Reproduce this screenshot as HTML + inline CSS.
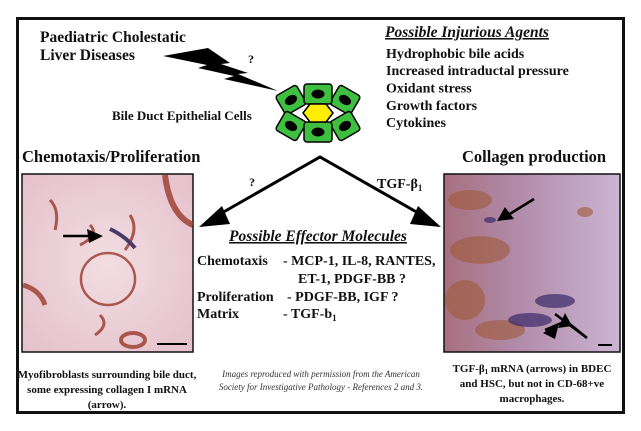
<!DOCTYPE html>
<html><head><meta charset="utf-8"><style>
html,body{margin:0;padding:0;background:#fff}
svg{display:block}
text{font-family:"Liberation Serif",serif;font-weight:bold;fill:#111}
</style></head><body>
<svg width="641" height="431" viewBox="0 0 641 431" xmlns="http://www.w3.org/2000/svg">
<defs>
<radialGradient id="lp" cx="50%" cy="50%" r="70%">
<stop offset="0" stop-color="#f2dde2"/><stop offset="1" stop-color="#e4c0cb"/></radialGradient>
<linearGradient id="rp" x1="0" y1="0" x2="1" y2="0">
<stop offset="0" stop-color="#a8707f"/><stop offset="0.4" stop-color="#b08aa8"/><stop offset="1" stop-color="#cbb5d3"/></linearGradient>
<g id="cell"><rect x="-14" y="-10" width="28" height="20" rx="3" fill="#3fbf3f" stroke="#000" stroke-width="1.5"/><ellipse cx="0" cy="0" rx="6.5" ry="4.5" fill="#000"/></g>
<g id="scell"><rect x="-12" y="-11" width="24" height="22" rx="3" fill="#3fbf3f" stroke="#000" stroke-width="1.5"/><ellipse cx="0" cy="0" rx="6.5" ry="4.5" fill="#000"/></g>
</defs>
<rect x="0" y="0" width="641" height="431" fill="#fff"/>
<rect x="17.5" y="18.5" width="606" height="394" fill="none" stroke="#111" stroke-width="3"/>

<text x="40" y="42" font-size="15.5">Paediatric Cholestatic</text>
<text x="40" y="60" font-size="15.5">Liver Diseases</text>
<polygon points="163,56 208,48 230,63 221,64 248,73 238,74 278,91 224,79 234,76 198,68 207,65" fill="#000"/>
<text x="248" y="63" font-size="12">?</text>

<text x="385" y="37" font-size="15.5" font-style="italic" text-decoration="underline">Possible Injurious Agents</text>
<text x="386" y="58" font-size="14">Hydrophobic bile acids</text>
<text x="386" y="75" font-size="14">Increased intraductal pressure</text>
<text x="386" y="92.5" font-size="14">Oxidant stress</text>
<text x="386" y="110" font-size="14">Growth factors</text>
<text x="386" y="127" font-size="14">Cytokines</text>

<text x="112" y="120" font-size="13">Bile Duct Epithelial Cells</text>

<g transform="translate(318,113)">
<use href="#scell" transform="translate(-27,-13) rotate(-30)"/>
<use href="#scell" transform="translate(27,-13) rotate(30)"/>
<use href="#scell" transform="translate(-27,13) rotate(30)"/>
<use href="#scell" transform="translate(27,13) rotate(-30)"/>
<use href="#cell" transform="translate(0,-19)"/>
<use href="#cell" transform="translate(0,19)"/>
<polygon points="-15,0 -8,-9 8,-9 15,0 8,9 -8,9" fill="#ffee00" stroke="#000" stroke-width="1.5"/>
</g>

<text x="22" y="162" font-size="16.5">Chemotaxis/Proliferation</text>
<text x="462" y="162" font-size="16.5">Collagen production</text>
<text x="249" y="186" font-size="12">?</text>
<text x="377" y="188" font-size="14">TGF-β<tspan font-size="9" dy="3">1</tspan></text>

<polyline points="213,218 320,157 427,218" fill="none" stroke="#000" stroke-width="3"/>
<polygon points="199,227 222,206 230,224" fill="#000"/>
<polygon points="441,227 418,206 410,224" fill="#000"/>

<text x="229" y="241" font-size="15.5" font-style="italic" text-decoration="underline">Possible Effector Molecules</text>
<text x="197" y="265" font-size="14">Chemotaxis</text>
<text x="283" y="265" font-size="14">- MCP-1, IL-8, RANTES,</text>
<text x="298" y="283" font-size="14">ET-1, PDGF-BB ?</text>
<text x="197" y="301" font-size="14">Proliferation</text>
<text x="287" y="301" font-size="14">- PDGF-BB, IGF ?</text>
<text x="197" y="318" font-size="14">Matrix</text>
<text x="283" y="318" font-size="14">- TGF-b<tspan font-size="9" dy="3">1</tspan></text>

<rect x="22" y="174" width="171" height="178" fill="url(#lp)" stroke="#111" stroke-width="1.5"/>
<g fill="none" stroke="#9a3a2a" stroke-width="3" opacity="0.8">
<ellipse cx="108" cy="279" rx="27" ry="26" stroke-width="2.5"/>
<path d="M165,175 Q170,215 193,225" stroke-width="6"/>
<path d="M23,285 Q40,290 45,305" stroke-width="5"/>
<ellipse cx="133" cy="340" rx="12" ry="7" stroke-width="4"/>
<path d="M90,225 Q100,235 80,245 M130,215 Q140,230 125,250 M50,200 Q60,210 55,230 M100,315 Q110,325 95,335"/>
</g>
<path d="M110,229 Q125,236 135,248" stroke="#4a3a6a" stroke-width="4" fill="none"/>
<line x1="63" y1="236" x2="90" y2="236" stroke="#000" stroke-width="2.5"/>
<polygon points="103,236 87,229 89,243" fill="#000"/>
<line x1="157" y1="344" x2="187" y2="344" stroke="#000" stroke-width="2"/>

<rect x="444" y="174" width="176" height="178" fill="url(#rp)" stroke="#111" stroke-width="1.5"/>
<g fill="#a05a3a" opacity="0.6">
<ellipse cx="470" cy="200" rx="22" ry="10"/><ellipse cx="480" cy="250" rx="30" ry="14"/>
<ellipse cx="465" cy="300" rx="20" ry="20"/><ellipse cx="500" cy="330" rx="25" ry="10"/>
<ellipse cx="585" cy="212" rx="8" ry="5"/>
</g>
<g fill="#3a2a6a" opacity="0.7">
<ellipse cx="530" cy="320" rx="22" ry="7"/><ellipse cx="555" cy="301" rx="20" ry="7"/><ellipse cx="490" cy="220" rx="6" ry="3"/>
</g>
<line x1="534" y1="199" x2="508" y2="215" stroke="#000" stroke-width="2.5"/>
<polygon points="497,221 505,207 514,219" fill="#000"/>
<polyline points="555,314 587,338 566,321 545,330" fill="none" stroke="#000" stroke-width="2.5"/>
<polygon points="543,333 559,323 555,339" fill="#000"/>
<polygon points="565,313 558,328 572,326" fill="#000"/>
<line x1="598" y1="345" x2="612" y2="345" stroke="#000" stroke-width="2"/>

<g font-size="11" text-anchor="middle">
<text x="107" y="378">Myofibroblasts surrounding bile duct,</text>
<text x="107" y="393">some expressing collagen I mRNA</text>
<text x="107" y="408">(arrow).</text>
<text x="532" y="372">TGF-β<tspan font-size="7" dy="2">1</tspan><tspan dy="-2"> mRNA (arrows) in BDEC</tspan></text>
<text x="532" y="387">and HSC, but not in CD-68+ve</text>
<text x="532" y="402">macrophages.</text>
</g>
<g font-size="9" text-anchor="middle" font-style="italic">
<text x="321" y="377" style="font-weight:normal;fill:#333">Images reproduced with permission from the American</text>
<text x="321" y="390" style="font-weight:normal;fill:#333">Society for Investigative Pathology - References 2 and 3.</text>
</g>
</svg>
</body></html>
